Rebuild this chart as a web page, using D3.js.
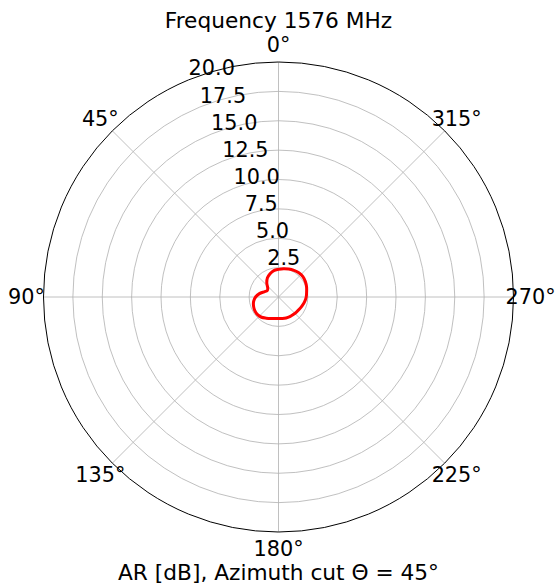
<!DOCTYPE html>
<html>
<head>
<meta charset="utf-8">
<script src="https://cdn.jsdelivr.net/npm/d3@7"></script>
<style>
  html, body { margin: 0; padding: 0; background: #fff; }
  svg { display: block; }
  text { font-family: "DejaVu Sans", sans-serif; fill: #000; }
</style>
</head>
<body>
<svg id="chart" width="556" height="585"></svg>
<script>
// ---- data ----
const title = "Frequency 1576 MHz";
const xLabel = "AR [dB], Azimuth cut \u0398 = 45\u00b0";
const angleTicks = [0, 45, 90, 135, 180, 225, 270, 315];
const radialTicks = [2.5, 5.0, 7.5, 10.0, 12.5, 15.0, 17.5, 20.0];
const thetaDeg = [0, 10, 20, 30, 40, 50, 60, 70, 80, 90, 100, 110, 120, 130, 140, 150, 160, 170,
                  180, 190, 200, 210, 220, 230, 240, 250, 260, 270, 280, 290, 300, 310, 320, 330, 340, 350];
const arDb = [2.35, 2.28, 2.10, 1.88, 1.55, 1.20, 1.10, 1.30, 1.65, 1.95, 2.15, 2.26, 2.33, 2.33, 2.25, 2.08, 1.95, 1.85,
              1.82, 1.85, 1.90, 1.93, 1.95, 1.99, 2.06, 2.15, 2.26, 2.36, 2.43, 2.54, 2.64, 2.71, 2.69, 2.62, 2.54, 2.45];

// ---- layout ----
const cx = 278.5, cy = 297, R = 235;
const fontSize = 20.8;
const titleSize = 21.7;
const svg = d3.select("#chart");
const g = svg.append("g").attr("transform", `translate(${cx},${cy})`);

const r = d3.scaleLinear().domain([0, 20]).range([0, R]);
// counterclockwise angle, 0 at top
const toRad = d => -d * Math.PI / 180;
const px = (deg, rad) => -rad * Math.sin(deg * Math.PI / 180);
const py = (deg, rad) => -rad * Math.cos(deg * Math.PI / 180);

// grid circles
g.selectAll("circle.grid").data(radialTicks.filter(t => t < 20)).enter()
  .append("circle").attr("class", "grid")
  .attr("r", d => r(d)).attr("fill", "none")
  .attr("stroke", "#b0b0b0").attr("stroke-width", 0.8);

// spokes
g.selectAll("line.spoke").data(angleTicks).enter()
  .append("line").attr("class", "spoke")
  .attr("x1", 0).attr("y1", 0)
  .attr("x2", d => px(d, R)).attr("y2", d => py(d, R))
  .attr("stroke", "#b0b0b0").attr("stroke-width", 0.8);

// data curve
const line = d3.lineRadial()
  .angle((d, i) => toRad(thetaDeg[i]))
  .radius(d => r(d))
  .curve(d3.curveCardinalClosed);
g.append("path").datum(arDb)
  .attr("d", line)
  .attr("fill", "none").attr("stroke", "#ff0000")
  .attr("stroke-width", 3).attr("stroke-linejoin", "round");

// outer circle
g.append("circle").attr("r", R).attr("fill", "none")
  .attr("stroke", "#000").attr("stroke-width", 1);

// radial labels at 22.5 deg
g.selectAll("text.rlab").data(radialTicks).enter()
  .append("text").attr("class", "rlab")
  .attr("x", d => px(22.5, r(d)))
  .attr("y", d => py(22.5, r(d)) - 4.5)
  .attr("text-anchor", "start")
  .style("font-size", fontSize + "px")
  .text(d => d.toFixed(1));

// angle labels
const labR = 252;
g.selectAll("text.alab").data(angleTicks).enter()
  .append("text").attr("class", "alab")
  .attr("x", d => px(d, labR))
  .attr("y", d => py(d, labR))
  .attr("text-anchor", "middle")
  .attr("dominant-baseline", "central")
  .style("font-size", fontSize + "px")
  .text(d => d + "\u00b0");

// title
svg.append("text").attr("x", cx).attr("y", 28)
  .attr("text-anchor", "middle").style("font-size", titleSize + "px").text(title);
svg.append("text").attr("x", cx).attr("y", 580)
  .attr("text-anchor", "middle").style("font-size", titleSize + "px").text(xLabel);
</script>
</body>
</html>
